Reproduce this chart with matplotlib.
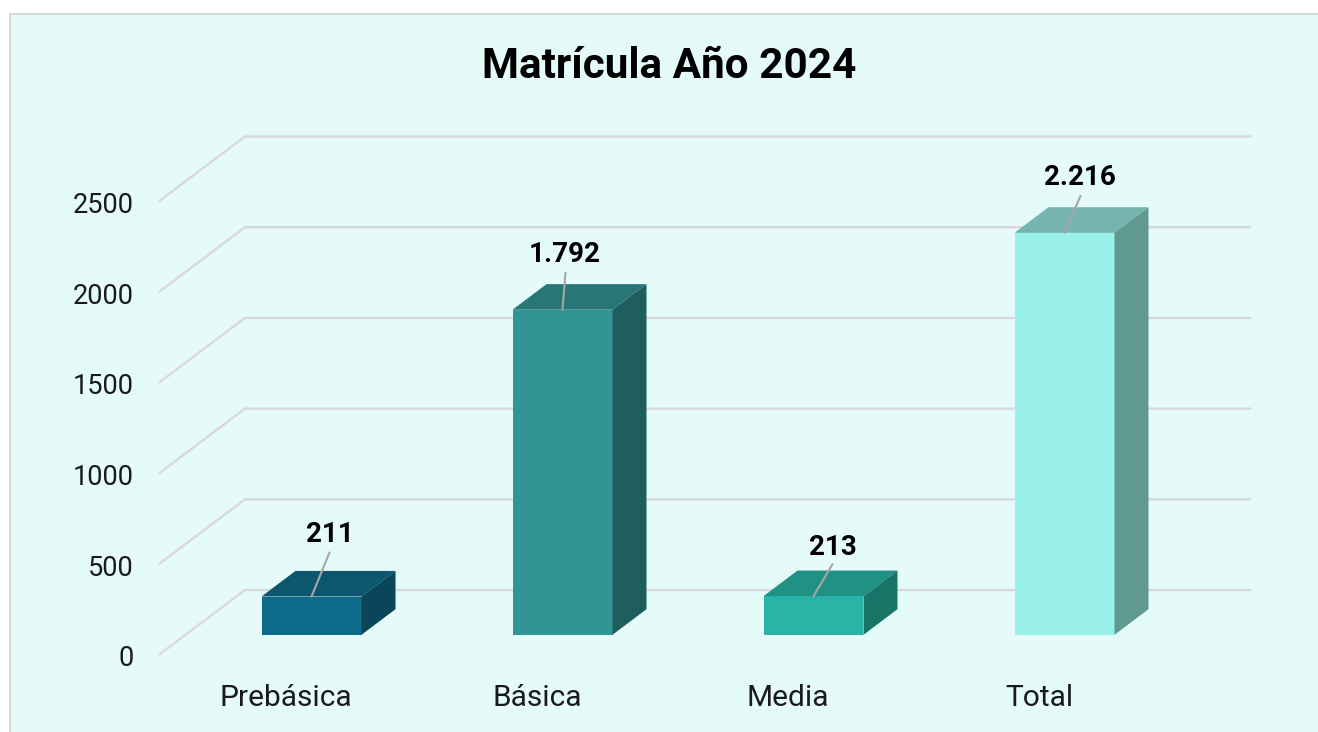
import matplotlib
matplotlib.use("Agg")
import matplotlib.pyplot as plt
from matplotlib.patches import Rectangle
from matplotlib.transforms import ScaledTranslation

# ---- data ----
categories = ["Prebásica", "Básica", "Media", "Total"]
values = [211, 1792, 213, 2216]
value_labels = ["211", "1.792", "213", "2.216"]
y_ticks = [0, 500, 1000, 1500, 2000, 2500]

# ---- styles ----
front_colors = ["#0F6B8A", "#329494", "#28B5A7", "#9AF1EA"]
top_colors = ["#0C566E", "#287676", "#209185", "#75B4AF"]
side_colors = ["#0A455A", "#1F5E5E", "#187466", "#5F9992"]
BG = "#E4FBF9"
GRID = "#D9D9D9"
LEADER = "#A6A6A6"
TEXT = "#1A1A1A"

W, H = 1318, 732
# layout in pixels
AX_L, AX_R, AX_B = 160, 1250, 654
PX_PER_CAT = 251.0
PX_PER_UNIT = 0.1814
CAT0_PX = 286.0

fig = plt.figure(figsize=(W / 100, H / 100), dpi=100, facecolor="white")
fig.patches.append(Rectangle((9.5 / W, -0.02), (W + 20) / W, 1.02 - 13.5 / H,
                             transform=fig.transFigure, facecolor=BG,
                             edgecolor=GRID, linewidth=1.5, zorder=-5))

ax_h = 2500 * PX_PER_UNIT
ax = fig.add_axes([AX_L / W, 1 - AX_B / H, (AX_R - AX_L) / W, ax_h / H])
ax.patch.set_alpha(0)
xmin = (AX_L - CAT0_PX) / PX_PER_CAT
xmax = (AX_R - CAT0_PX) / PX_PER_CAT
ax.set_xlim(xmin, xmax)
ax.set_ylim(0, 2500)
for s in ax.spines.values():
    s.set_visible(False)

# oblique depth vector of the floor, in data units
DX = 85 / PX_PER_CAT
DY = 64 / PX_PER_UNIT
BAR_W = 100 / PX_PER_CAT
NEAR, FAR = 0.3, 0.7

# walls' grid
for v in y_ticks:
    ax.plot([xmin, xmin + DX, xmax], [v, v + DY, v + DY], color=GRID, lw=1.7,
            clip_on=False, zorder=1, solid_joinstyle="miter")

# leader line tips and label centres, in pixels from the top front-centre of each bar
leader_dx = [18, 3, 19, 16]
leader_dy = [44, 37, 32, 37]
label_dx = [18, 2, 19, 15]
label_dy = [62, 55, 49, 55]

for i, v in enumerate(values):
    x0 = i + NEAR * DX - BAR_W / 2
    x1 = x0 + BAR_W
    y0 = NEAR * DY
    y1 = y0 + v
    ddx = (FAR - NEAR) * DX
    ddy = (FAR - NEAR) * DY
    kw = dict(linewidth=0, clip_on=False, zorder=3)
    ax.fill([x0, x1, x1, x0], [y0, y0, y1, y1], color=front_colors[i], **kw)
    ax.fill([x0, x1, x1 + ddx, x0 + ddx], [y1, y1, y1 + ddy, y1 + ddy], color=top_colors[i], **kw)
    ax.fill([x1, x1 + ddx, x1 + ddx, x1], [y0, y0 + ddy, y1 + ddy, y1], color=side_colors[i], **kw)
    xc = (x0 + x1) / 2
    ax.annotate("", xy=(xc, y1), xytext=(leader_dx[i] * .72, leader_dy[i] * .72),
                xycoords="data", textcoords=("offset points"),
                arrowprops=dict(arrowstyle="-", color=LEADER, lw=1.5, shrinkA=0, shrinkB=0),
                zorder=4, annotation_clip=False)
    ax.annotate(value_labels[i], xy=(xc, y1), xytext=(label_dx[i] * .72, label_dy[i] * .72),
                textcoords="offset points", ha="center", va="center",
                fontsize=20, fontweight="bold", family="Roboto", color="black",
                zorder=5, annotation_clip=False)

ax.set_yticks(y_ticks)
ax.set_yticklabels([str(t) for t in y_ticks], family="Roboto", fontsize=19.5, color=TEXT)
ax.set_xticks(range(len(categories)))
ax.set_xticklabels(categories, family="Roboto", fontsize=21.5, color=TEXT)
ax.tick_params(axis="y", length=0, pad=19)
ax.tick_params(axis="x", length=0, pad=21.5)
shift = ScaledTranslation(0, -2 / 100, fig.dpi_scale_trans)
for lab in ax.get_yticklabels():
    lab.set_transform(lab.get_transform() + shift)

fig.text(669.5 / W, 1 - 62.5 / H, "Matrícula Año 2024", ha="center", va="center_baseline",
         family="Roboto", fontweight="bold", fontsize=30.4, color="black")

fig.savefig("out.png", dpi=100, facecolor="white")
